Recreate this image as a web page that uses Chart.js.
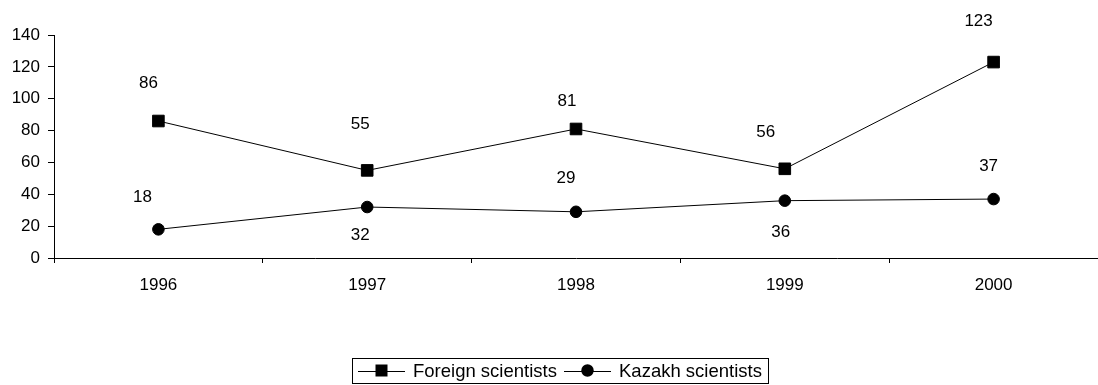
<!DOCTYPE html>
<html>
<head>
<meta charset="utf-8">
<script src="https://cdn.jsdelivr.net/npm/chart.js@4"></script>
<style>
  html, body { margin: 0; padding: 0; background: #ffffff; }
  canvas { display: block; }
</style>
</head>
<body>
<canvas id="c" width="1098" height="385"></canvas>
<script>
// Researchers per year
const years = ['1996', '1997', '1998', '1999', '2000'];
const foreignScientists = [86, 55, 81, 56, 123];
const kazakhScientists = [18, 32, 29, 36, 37];
const yTickValues = [0, 20, 40, 60, 80, 100, 120, 140];

// Value-label placement relative to each point (px; negative y = above)
const foreignLabelDy = [-38, -46, -28, -36, -41];
const foreignLabelDx = [-10, -7, -9, -19, -15];
const kazakhLabelDy = [-32, 28, -33, 32, -33];
const kazakhLabelDx = [-16, -7, -10, -4, -5];

const FONT_FAMILY = '"Liberation Sans", Arial, sans-serif';
const FONT_SIZE = 17;
const LEGEND_FONT_SIZE = 18.5;

// Writes the value next to each point
const valueLabels = {
  id: 'valueLabels',
  afterDatasetsDraw(chart) {
    const ctx = chart.ctx;
    const shifts = [
      { dx: foreignLabelDx, dy: foreignLabelDy },
      { dx: kazakhLabelDx, dy: kazakhLabelDy }
    ];
    ctx.save();
    ctx.font = FONT_SIZE + 'px ' + FONT_FAMILY;
    ctx.fillStyle = '#000';
    ctx.textAlign = 'center';
    ctx.textBaseline = 'middle';
    chart.data.datasets.forEach((ds, di) => {
      const meta = chart.getDatasetMeta(di);
      meta.data.forEach((pt, i) => {
        ctx.fillText(String(ds.data[i]), pt.x + shifts[di].dx[i], pt.y + shifts[di].dy[i]);
      });
    });
    ctx.restore();
  }
};

// Boxed legend under the plot: line with marker, then series name
const boxedLegend = {
  id: 'boxedLegend',
  afterDraw(chart) {
    const ctx = chart.ctx;
    const left = 352, top = 358, right = 768, bottom = 383;
    const midY = (top + bottom) / 2;
    ctx.save();
    ctx.strokeStyle = '#000';
    ctx.lineWidth = 1;
    ctx.strokeRect(left + 0.5, top + 0.5, right - left, bottom - top);

    ctx.font = LEGEND_FONT_SIZE + 'px ' + FONT_FAMILY;
    ctx.fillStyle = '#000';
    ctx.textAlign = 'left';
    ctx.textBaseline = 'middle';

    const items = [
      { x: 358, style: 'rect' },
      { x: 564, style: 'circle' }
    ];
    chart.data.datasets.forEach((ds, di) => {
      const it = items[di];
      const lineW = 47;
      ctx.beginPath();
      ctx.moveTo(it.x, Math.round(midY) + 0.5);
      ctx.lineTo(it.x + lineW, Math.round(midY) + 0.5);
      ctx.stroke();
      const cx = it.x + lineW / 2;
      ctx.beginPath();
      if (it.style === 'rect') {
        ctx.rect(cx - 6, midY - 6, 12, 12);
      } else {
        ctx.arc(cx, midY, 6.2, 0, Math.PI * 2);
      }
      ctx.fill();
      ctx.fillText(ds.label, it.x + lineW + 8, midY + 1);
    });
    ctx.restore();
  }
};

new Chart(document.getElementById('c'), {
  type: 'line',
  data: {
    labels: years,
    datasets: [
      {
        label: 'Foreign scientists',
        data: foreignScientists,
        borderColor: '#000',
        borderWidth: 1,
        backgroundColor: '#000',
        pointStyle: 'rect',
        pointRadius: 8.2,
        pointBackgroundColor: '#000',
        pointBorderColor: '#000',
        pointBorderWidth: 1,
        tension: 0,
        fill: false,
        clip: false
      },
      {
        label: 'Kazakh scientists',
        data: kazakhScientists,
        borderColor: '#000',
        borderWidth: 1,
        backgroundColor: '#000',
        pointStyle: 'circle',
        pointRadius: 5.8,
        pointBackgroundColor: '#000',
        pointBorderColor: '#000',
        pointBorderWidth: 1,
        tension: 0,
        fill: false,
        clip: false
      }
    ]
  },
  options: {
    responsive: false,
    animation: false,
    devicePixelRatio: 1,
    layout: {
      autoPadding: false,
      padding: { top: 35, right: 0, bottom: 87, left: 0 }
    },
    plugins: {
      legend: { display: false },
      tooltip: { enabled: false }
    },
    scales: {
      x: {
        type: 'category',
        offset: true,
        grid: {
          offset: true,
          drawOnChartArea: false,
          drawTicks: true,
          tickLength: 5,
          color: '#000',
          lineWidth: 1
        },
        border: { display: true, color: '#000', width: 1 },
        ticks: {
          color: '#000',
          padding: 12,
          maxRotation: 0,
          autoSkip: false,
          font: { family: FONT_FAMILY, size: FONT_SIZE }
        },
        afterFit(scale) { scale.height = 40; }
      },
      y: {
        min: yTickValues[0],
        max: yTickValues[yTickValues.length - 1],
        afterBuildTicks(scale) {
          scale.ticks = yTickValues.map(v => ({ value: v }));
        },
        grid: {
          drawOnChartArea: false,
          drawTicks: true,
          tickLength: 6,
          color: '#000',
          lineWidth: 1
        },
        border: { display: true, color: '#000', width: 1 },
        ticks: {
          color: '#000',
          padding: 8,
          font: { family: FONT_FAMILY, size: FONT_SIZE }
        },
        afterFit(scale) { scale.width = 54; }
      }
    }
  },
  plugins: [valueLabels, boxedLegend]
});
</script>
</body>
</html>
